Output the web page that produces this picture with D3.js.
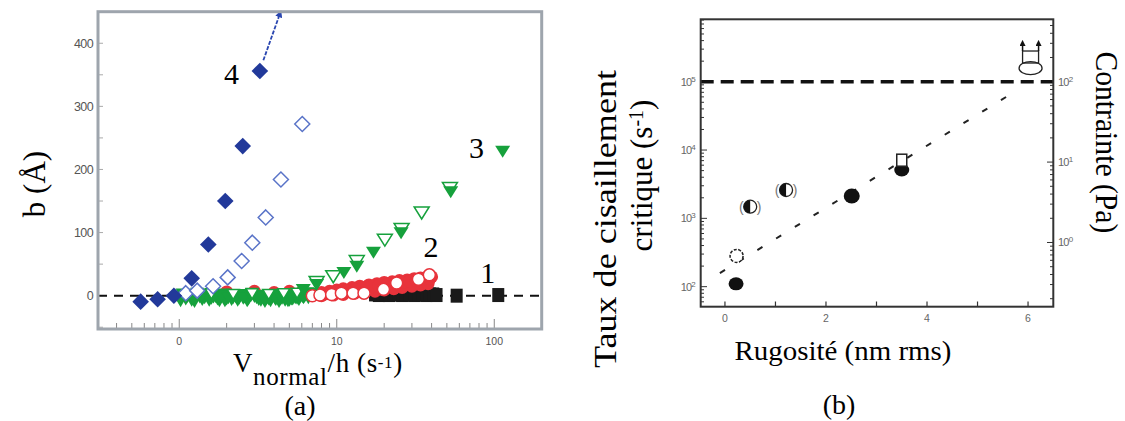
<!DOCTYPE html>
<html><head><meta charset="utf-8">
<script src="https://cdn.jsdelivr.net/npm/d3@7"></script>
<style>html,body{margin:0;padding:0;background:#fff;}svg{display:block;}</style>
</head><body>
<svg id="c" width="1125" height="421"></svg>
<script>
// ---------- Panel (a) data ----------
const aXTicks = [1, 10, 100];
const aXTickLabels = ["0", "10", "100"];
const aYTicks = [0, 100, 200, 300, 400];
const s4FilledX = [0.569, 0.729, 0.925, 1.2, 1.53, 1.96, 2.53, 3.25];
const s4FilledY = [-9.5, -5.7, 0, 27.5, 81, 150, 237, 356];
const s4OpenX = [1.1, 1.3, 1.64, 2.03, 2.49, 2.91, 3.54, 4.42, 6.04];
const s4OpenY = [4, 8, 15, 29, 55, 84, 124, 184, 272];
const s4ArrowX = [3.42, 4.36];
const s4ArrowY = [373, 447];
const s3ClusterX = [1.0,1.05,1.1,1.15,1.2,1.3,1.35,1.4,1.5,1.6,1.7,1.8,1.9,2.0,2.1,2.2,2.35,2.5,2.6,2.75,2.9,3.0,3.2,3.4,3.6,3.8,4.0,4.2,4.4,4.6,4.8,5.0,5.3,5.6,5.9,6.2,6.5,6.8,
  1.02,1.12,1.25,1.45,1.55,1.75,1.95,2.15,2.4,2.7,3.1,3.3,3.5,3.7,3.9,4.1,4.3,4.5,4.7,4.9,5.15,5.45,5.75,6.05,6.35,6.6,
  1.08,1.22,1.38,1.65,1.85,2.05,2.28,2.55,2.85,3.15,3.45,3.75,4.05,4.35,4.65,4.95,5.25,5.55,5.85,6.15];
const s3ClusterY = [-4,2,-6,0,-8,3,-3,-7,1,-5,-2,-9,2,-6,0,-4,-8,1,-3,-6,3,-2,-7,0,-5,-9,1,-4,-6,2,-3,-8,0,-5,2,-2,4,3,
  -9,-3,-10,-4,-8,-6,-9,-7,-5,-9,-4,-8,-10,-6,-3,-7,-10,-5,-8,-9,-6,-4,-7,-2,0,-4,
  -1,-5,-2,-3,-1,-4,-2,-5,-1,-3,-6,-2,-5,-1,-4,-2,-6,-3,-1,-4];
const s3OpenLowX = [1.3, 1.6, 2.2, 2.9, 3.7, 4.6, 5.6];
const s3OpenLowY = [2, 3, 2, 3, 2, 3, 4];
const s3FilledX = [6.13, 7.45, 11.1, 13.4, 17.1, 25.6, 52.9, 113];
const s3FilledY = [9, 17, 36, 46, 68, 99, 164, 228];
const s3OpenX = [7.45, 9.5, 13.4, 20.2, 25.8, 34.6, 52.3];
const s3OpenY = [21, 30, 54, 88, 105, 131, 170];
const s2FilledX = [2,3,4,5,6,7,8,9,10,11,12.5,14,16,18,20,22.5,25,28,31,34,37,40,
  8,9.5,11,13,15,17.5,20,23,26,30,34,38,
  8.5,10,11.5,13,14.5,16.5,18.5,21,23.5,26.5,29,32,35.5,39];
const s2FilledY = [6,7,5,7,6,2,5,7,9,11,13,15,17,19,21,22,24,25,27,28,29,30,
  0,1,2,4,5,7,9,11,13,15,17,19,
  3,6,8,10,12,14,16,18,20,21,23,24,26,27];
const s2OpenX = [7.0, 7.82, 9.28, 10.7, 12.7, 14.9, 19.8, 24, 33, 38.7];
const s2OpenY = [0, 1, 2, 4, 4, 4, 10, 20, 26, 33];
const s1X = [17.5,18.5,19.5,20.5,21.5,23,24.5,26,27.5,29,31,33,35,37,39,41,43,57.7,106];
const s1Y = [2,1,2,2,1,2,2,1,2,2,1,2,2,1,2,2,1,0,1];
const aLabels = ["4", "3", "2", "1"];
const aLabelX = [2.15, 77, 39.6, 91];
const aLabelY = [336, 218, 62, 20];

// ---------- Panel (b) data ----------
const bXTicks = [0, 1, 2, 3, 4, 5, 6];
const bXTickLabels = [0, 2, 4, 6];
const bYLeftTicks = [1e2, 1e3, 1e4, 1e5];
const bYRightTicks = [1, 10, 100];
const bFilledX = [0.22, 2.51, 3.5];
const bFilledY = [110, 2120, 5100];
const bOpenDotX = [0.23];
const bOpenDotY = [282];
const bHalfX = [0.5, 1.21];
const bHalfY = [1480, 2600];
const bSquareX = [3.5];
const bSquareY = [7100];
const bBoundX = [6.05];
const bBoundEllipseY = [158000];
const bBoundSquareY = [230000];
const bBoundArrowTopY = [370000];
const bCritical = 1e5;
const bTrendX = [-0.1, 5.6];
const bTrendY = [158, 62000];

const svg = d3.select("#c");
const serif = "'Liberation Serif','Times New Roman',Times,serif";
const sans = "'Liberation Sans',Arial,sans-serif";

// ================= Panel (a) =================
const ax = d3.scaleLog().domain([0.305, 200]).range([98, 541.7]);
const ay = d3.scaleLinear().domain([-52.8, 450]).range([329, 11.7]);
const A = svg.append("g");

const ayMinor = d3.range(-50, 451, 50);
A.selectAll(".ayt").data(ayMinor).join("line")
  .attr("x1", 98).attr("x2", 103).attr("y1", d => ay(d)).attr("y2", d => ay(d))
  .attr("stroke", "#aaa").attr("stroke-width", 1);
A.selectAll(".ayl").data(aYTicks).join("text")
  .attr("x", 93).attr("y", d => ay(d) + 4.5).attr("text-anchor", "end")
  .attr("font-family", sans).attr("font-size", 12.5).attr("letter-spacing", -0.6)
  .attr("fill", "#555").text(d => d);
const axMinor = [];
[0.1, 1, 10, 100].forEach(dec => { for (let k = 1; k <= 9; k++) { const v = dec * k; if (v >= 0.31 && v <= 200) axMinor.push(v); } });
A.selectAll(".axt").data(axMinor).join("line")
  .attr("x1", d => ax(d)).attr("x2", d => ax(d))
  .attr("y1", 329).attr("y2", d => aXTicks.includes(d) ? 319 : 323)
  .attr("stroke", "#888").attr("stroke-width", 1);
A.selectAll(".axl").data(aXTicks).join("text")
  .attr("x", d => ax(d)).attr("y", 345).attr("text-anchor", "middle")
  .attr("font-family", sans).attr("font-size", 10.5).attr("fill", "#555")
  .text((d, i) => aXTickLabels[i]);

A.append("line").attr("x1", 98).attr("x2", 541.7).attr("y1", ay(0)).attr("y2", ay(0))
  .attr("stroke", "#111").attr("stroke-width", 2).attr("stroke-dasharray", "9,7");

function diamondPath(cx, cy, r) { return `M${cx},${cy - r}L${cx + r},${cy}L${cx},${cy + r}L${cx - r},${cy}Z`; }
function triPath(cx, cy, w, h) { return `M${cx - w / 2},${cy - h / 2}L${cx + w / 2},${cy - h / 2}L${cx},${cy + h / 2}Z`; }

A.selectAll(".s1").data(s1X.map((x, i) => [x, s1Y[i]])).join("rect")
  .attr("x", d => ax(d[0]) - 6).attr("y", d => ay(d[1]) - 7).attr("width", 12).attr("height", 14)
  .attr("fill", "#1a1a1a");
A.selectAll(".s2f").data(s2FilledX.map((x, i) => [x, s2FilledY[i]])).join("circle")
  .attr("cx", d => ax(d[0])).attr("cy", d => ay(d[1])).attr("r", 6.5).attr("fill", "#e8333b");
A.selectAll(".s3c").data(s3ClusterX.map((x, i) => [x, s3ClusterY[i]])).join("path")
  .attr("d", d => triPath(ax(d[0]), ay(d[1]), 14, 12)).attr("fill", "#16a13c");
A.selectAll(".s3ol").data(s3OpenLowX.map((x, i) => [x, s3OpenLowY[i]])).join("path")
  .attr("d", d => triPath(ax(d[0]), ay(d[1]), 12, 10)).attr("fill", "#fff").attr("stroke", "#16a13c").attr("stroke-width", 1.5);
A.selectAll(".s2o").data(s2OpenX.map((x, i) => [x, s2OpenY[i]])).join("circle")
  .attr("cx", d => ax(d[0])).attr("cy", d => ay(d[1])).attr("r", 6)
  .attr("fill", "#fff").attr("stroke", "#e8333b").attr("stroke-width", 1.5);
A.selectAll(".s3o").data(s3OpenX.map((x, i) => [x, s3OpenY[i]])).join("path")
  .attr("d", d => triPath(ax(d[0]), ay(d[1]), 15, 12)).attr("fill", "#fff").attr("stroke", "#16a13c").attr("stroke-width", 1.5);
A.selectAll(".s3f").data(s3FilledX.map((x, i) => [x, s3FilledY[i]])).join("path")
  .attr("d", d => triPath(ax(d[0]), ay(d[1]), 15, 12)).attr("fill", "#16a13c");
A.selectAll(".s4o").data(s4OpenX.map((x, i) => [x, s4OpenY[i]])).join("path")
  .attr("d", d => diamondPath(ax(d[0]), ay(d[1]), 7.5)).attr("fill", "#fff")
  .attr("stroke", "#5a74c8").attr("stroke-width", 1.5);
A.selectAll(".s4f").data(s4FilledX.map((x, i) => [x, s4FilledY[i]])).join("path")
  .attr("d", d => diamondPath(ax(d[0]), ay(d[1]), 8.3)).attr("fill", "#22399a");
const defs = svg.append("defs");
defs.append("marker").attr("id", "ahb").attr("viewBox", "0 0 10 10").attr("refX", 5).attr("refY", 5)
  .attr("markerWidth", 4).attr("markerHeight", 4).attr("orient", "auto")
  .append("path").attr("d", "M0,0L10,5L0,10Z").attr("fill", "#2a46b0");
defs.append("marker").attr("id", "ahk").attr("viewBox", "0 0 10 10").attr("refX", 5).attr("refY", 5)
  .attr("markerWidth", 4).attr("markerHeight", 4).attr("orient", "auto")
  .append("path").attr("d", "M0,0L10,5L0,10Z").attr("fill", "#111");
A.append("line").attr("x1", ax(s4ArrowX[0])).attr("y1", ay(s4ArrowY[0]))
  .attr("x2", ax(s4ArrowX[1])).attr("y2", ay(s4ArrowY[1]))
  .attr("stroke", "#2a46b0").attr("stroke-width", 1.8).attr("stroke-dasharray", "4,1.5")
  .attr("marker-end", "url(#ahb)");

A.append("rect").attr("x", 98).attr("y", 11.7).attr("width", 443.7).attr("height", 317.3)
  .attr("fill", "none").attr("stroke", "#9ea5ad").attr("stroke-width", 3);

A.selectAll(".lab").data(aLabels).join("text")
  .attr("x", (d, i) => ax(aLabelX[i])).attr("y", (d, i) => ay(aLabelY[i]))
  .attr("text-anchor", "middle").attr("font-family", serif).attr("font-size", 30).attr("fill", "#000")
  .text(d => d);

const xt = A.append("text").attr("x", 233).attr("y", 372).attr("font-family", serif).attr("font-size", 27)
  .attr("letter-spacing", 0.6).attr("fill", "#000");
xt.append("tspan").text("V");
xt.append("tspan").attr("dy", 13).attr("font-size", 25).text("normal");
xt.append("tspan").attr("dy", -13).text("/h (s");
xt.append("tspan").attr("dy", -4).attr("font-size", 17).text("-1");
xt.append("tspan").attr("dy", 4).text(")");
A.append("text").attr("x", 300).attr("y", 415).attr("text-anchor", "middle")
  .attr("font-family", serif).attr("font-size", 28).text("(a)");
A.append("text").attr("transform", "translate(45,184) rotate(-90)").attr("text-anchor", "middle")
  .attr("font-family", serif).attr("font-size", 31).text("b (Å)");

// ================= Panel (b) =================
const bx = d3.scaleLinear().domain([-0.48, 6.5]).range([700.7, 1053.3]);
const byL = d3.scaleLog().domain([50.9, 820000]).range([306.7, 19.3]);
const byR = d3.scaleLog().domain([0.159, 597]).range([306.7, 19.3]);
const B = svg.append("g");

const lMinor = [];
[10, 100, 1000, 10000, 100000].forEach(dec => { for (let k = 1; k <= 9; k++) { const v = dec * k; if (v >= 51 && v <= 820000) lMinor.push(v); } });
B.selectAll(".blt").data(lMinor).join("line")
  .attr("x1", 700.7).attr("x2", d => bYLeftTicks.includes(d) ? 707 : 704)
  .attr("y1", d => byL(d)).attr("y2", d => byL(d)).attr("stroke", "#333").attr("stroke-width", 1);
const rMinor = [];
[0.1, 1, 10, 100].forEach(dec => { for (let k = 1; k <= 9; k++) { const v = dec * k; if (v >= 0.16 && v <= 597) rMinor.push(v); } });
B.selectAll(".brt").data(rMinor).join("line")
  .attr("x1", 1053.3).attr("x2", d => bYRightTicks.includes(d) ? 1047 : 1050)
  .attr("y1", d => byR(d)).attr("y2", d => byR(d)).attr("stroke", "#333").attr("stroke-width", 1);
B.selectAll(".bxt").data(bXTicks).join("line")
  .attr("x1", d => bx(d)).attr("x2", d => bx(d)).attr("y1", 306.7).attr("y2", 301.5)
  .attr("stroke", "#333").attr("stroke-width", 1.2);

const lt = B.selectAll(".bll").data(bYLeftTicks).join("text")
  .attr("x", 695).attr("y", d => byL(d) + 4).attr("text-anchor", "end")
  .attr("font-family", sans).attr("font-size", 11).attr("letter-spacing", -0.8).attr("fill", "#666");
lt.append("tspan").text("10");
lt.append("tspan").attr("dy", -4).attr("font-size", 8).text(d => Math.round(Math.log10(d)));
const rt = B.selectAll(".brl").data(bYRightTicks).join("text")
  .attr("x", 1058).attr("y", d => byR(d) + 4).attr("text-anchor", "start")
  .attr("font-family", sans).attr("font-size", 11).attr("letter-spacing", -0.8).attr("fill", "#666");
rt.append("tspan").text("10");
rt.append("tspan").attr("dy", -4).attr("font-size", 8).text(d => Math.round(Math.log10(d)));
B.selectAll(".bxl").data(bXTickLabels).join("text")
  .attr("x", d => bx(d)).attr("y", 322).attr("text-anchor", "middle")
  .attr("font-family", sans).attr("font-size", 10.5).attr("fill", "#666").text(d => d);

B.append("line").attr("x1", 700.7).attr("x2", 1053.3).attr("y1", byL(bCritical)).attr("y2", byL(bCritical))
  .attr("stroke", "#111").attr("stroke-width", 3.5).attr("stroke-dasharray", "13,7");
B.append("line").attr("x1", bx(bTrendX[0])).attr("y1", byL(bTrendY[0]))
  .attr("x2", bx(bTrendX[1])).attr("y2", byL(bTrendY[1]))
  .attr("stroke", "#222").attr("stroke-width", 2).attr("stroke-dasharray", "6,16");

B.selectAll(".bf").data(bFilledX.map((x, i) => [x, bFilledY[i]])).join("ellipse")
  .attr("cx", d => bx(d[0])).attr("cy", d => byL(d[1])).attr("rx", (d, i) => i === 1 ? 8 : 7.5).attr("ry", (d, i) => i === 1 ? 7.5 : 6.5)
  .attr("fill", "#111");
B.selectAll(".bsq").data(bSquareX.map((x, i) => [x, bSquareY[i]])).join("rect")
  .attr("x", d => bx(d[0]) - 5).attr("y", d => byL(d[1]) - 6).attr("width", 10).attr("height", 12)
  .attr("fill", "#fff").attr("stroke", "#222").attr("stroke-width", 1.5);
B.selectAll(".bod").data(bOpenDotX.map((x, i) => [x, bOpenDotY[i]])).join("circle")
  .attr("cx", d => bx(d[0])).attr("cy", d => byL(d[1])).attr("r", 6.5)
  .attr("fill", "#fff").attr("stroke", "#222").attr("stroke-width", 1.5).attr("stroke-dasharray", "3,1.5");
const half = B.selectAll(".bh").data(bHalfX.map((x, i) => [x, bHalfY[i]])).join("g")
  .attr("transform", d => `translate(${bx(d[0])},${byL(d[1])})`);
half.append("circle").attr("r", 6.5).attr("fill", "#fff").attr("stroke", "#222").attr("stroke-width", 1.3);
half.append("path").attr("d", "M0,-6.5A6.5,6.5 0 0 0 0,6.5Z").attr("fill", "#111");
half.append("text").attr("x", -9).attr("y", 5).attr("text-anchor", "middle").attr("font-family", sans)
  .attr("font-size", 14).attr("fill", "#777").text("(");
half.append("text").attr("x", 9).attr("y", 5).attr("text-anchor", "middle").attr("font-family", sans)
  .attr("font-size", 14).attr("fill", "#777").text(")");
B.selectAll(".bbe").data(bBoundX.map((x, i) => [x, bBoundEllipseY[i]])).join("ellipse")
  .attr("cx", d => bx(d[0])).attr("cy", d => byL(d[1])).attr("rx", 11.5).attr("ry", 6.5)
  .attr("fill", "#fff").attr("stroke", "#222").attr("stroke-width", 1.3);
B.selectAll(".bbs").data(bBoundX.map((x, i) => [x, bBoundSquareY[i]])).join("rect")
  .attr("x", d => bx(d[0]) - 8).attr("y", d => byL(d[1]) - 6).attr("width", 16).attr("height", 12)
  .attr("fill", "none").attr("stroke", "#222").attr("stroke-width", 1.3);
bBoundX.forEach((x, i) => {
  [-8, 8].forEach(off => {
    B.append("line").attr("x1", bx(x) + off).attr("x2", bx(x) + off)
      .attr("y1", byL(bBoundSquareY[i]) - 6).attr("y2", byL(bBoundArrowTopY[i]))
      .attr("stroke", "#111").attr("stroke-width", 1.5).attr("marker-end", "url(#ahk)");
  });
});

B.append("rect").attr("x", 700.7).attr("y", 19.3).attr("width", 352.6).attr("height", 287.4)
  .attr("fill", "none").attr("stroke", "#333").attr("stroke-width", 2);

B.append("text").attr("x", 843).attr("y", 360).attr("text-anchor", "middle")
  .attr("font-family", serif).attr("font-size", 28).attr("textLength", 217).attr("lengthAdjust", "spacingAndGlyphs")
  .text("Rugosité (nm rms)");
B.append("text").attr("x", 839).attr("y", 414).attr("text-anchor", "middle")
  .attr("font-family", serif).attr("font-size", 28).text("(b)");
B.append("text").attr("transform", "translate(616,219) rotate(-90)").attr("text-anchor", "middle")
  .attr("font-family", serif).attr("font-size", 31).attr("textLength", 298).attr("lengthAdjust", "spacingAndGlyphs")
  .text("Taux de cisaillement");
const t2 = B.append("text").attr("transform", "translate(652,175.5) rotate(-90)").attr("text-anchor", "middle")
  .attr("font-family", serif).attr("font-size", 31);
t2.append("tspan").text("critique (s");
t2.append("tspan").attr("dy", -9).attr("font-size", 20).text("-1");
t2.append("tspan").attr("dy", 9).text(")");
B.append("text").attr("transform", "translate(1096,142.4) rotate(90)").attr("text-anchor", "middle")
  .attr("font-family", serif).attr("font-size", 31).attr("textLength", 182).attr("lengthAdjust", "spacingAndGlyphs")
  .text("Contrainte (Pa)");
</script>
</body></html>
